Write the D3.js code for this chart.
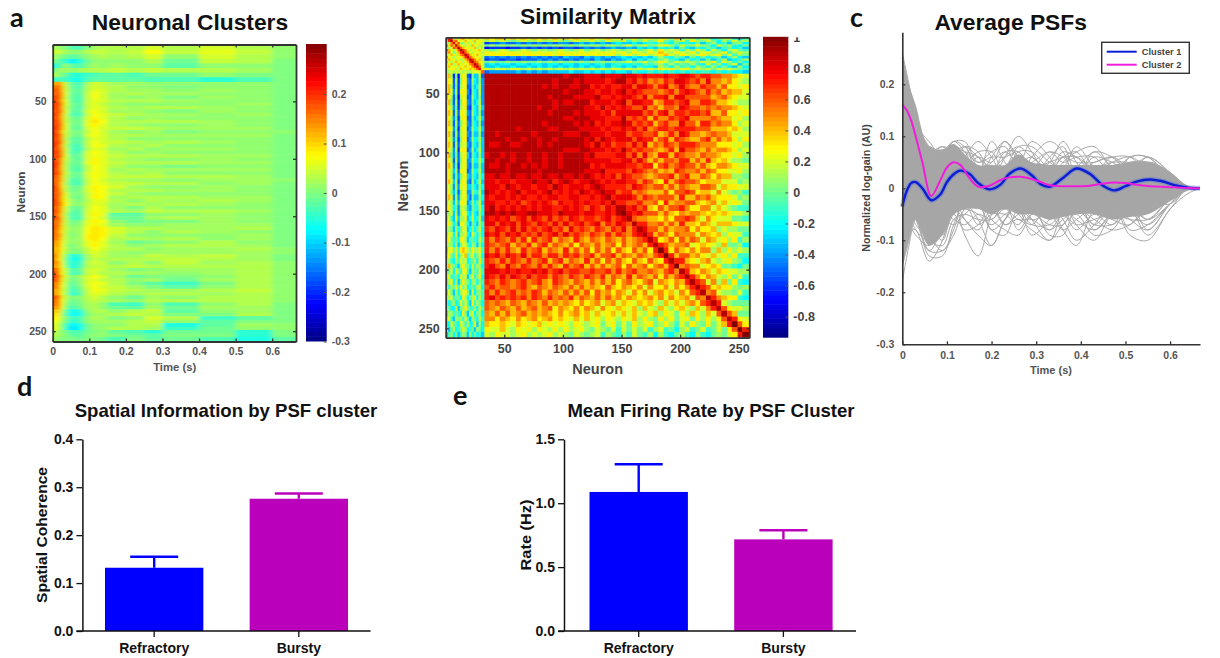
<!DOCTYPE html>
<html>
<head>
<meta charset="utf-8">
<script src="https://cdn.jsdelivr.net/npm/d3@7"></script>
<style>
  body { margin: 0; background: #fff; }
  svg { display: block; }
  text { font-family: "Liberation Sans", Arial, sans-serif; font-weight: bold; }
  .letter { font-family: Lato, sans-serif; font-size: 27px; fill: #111; }
  .small .tick text { font-size: 10.5px; fill: #555; font-family: "Liberation Sans", sans-serif; font-weight: bold; }
  .mid .tick text { font-size: 12.5px; fill: #444; font-family: "Liberation Sans", sans-serif; font-weight: bold; }
  .big .tick text { font-size: 14px; fill: #111; font-family: "Liberation Sans", sans-serif; font-weight: bold; }
</style>
</head>
<body>
<svg id="fig" width="1220" height="658"></svg>
<script>
// panel a: gain x100, one row per neuron band, one column per time bin
var clusterTimeEdges = [0, .01, .02, .03, .045, .065, .085, .105, .125, .15, .2, .25, .3, .4, .5, .6, .665];
var clusterRowStarts = [1, 5, 9, 13, 17, 21, 25, 29].concat(d3.range(33, 259, 3));
var clusterGain = [
  [2,2,1,0,-3,-3,0,2,3,3,3,5,3,5,3,1],
  [4,5,3,2,1,1,3,4,4,3,4,7,4,6,4,1],
  [2,1,0,-1,-2,-1,1,2,3,2,3,5,1,5,3,1],
  [0,-2,-3,-5,-8,-5,-1,1,1,1,1,3,-1,4,3,0],
  [-6,-4,-1,1,-2,-3,0,2,1,2,1,1,-2,1,1,0],
  [-1,1,2,2,1,2,3,3,3,4,3,4,3,3,2,0],
  [3,1,0,-2,-5,-5,-4,-3,-2,-2,-3,-1,-1,1,0,0],
  [-4,-4,-3,-4,-6,-6,-3,-2,-2,-2,-2,-3,-3,-5,-3,0],
  [12,14,11,3,-2,-3,2,5,4,2,2,1,1,1,1,0],
  [15,17,12,4,-2,-3,3,5,4,3,1,1,0,1,1,0],
  [17,18,12,4,-1,-2,3,6,5,3,2,2,1,2,1,0],
  [16,19,13,5,-2,-2,4,7,5,2,3,2,2,1,1,0],
  [18,19,13,4,-2,-3,4,7,5,2,1,2,0,2,1,0],
  [19,18,12,5,-2,-3,4,6,5,3,3,3,2,1,1,0],
  [18,20,14,5,-1,-2,4,6,4,2,1,1,1,1,2,0],
  [19,19,13,4,-1,-3,4,6,5,3,2,3,3,2,1,0],
  [17,20,14,5,-2,-2,5,7,5,2,2,1,0,2,1,0],
  [19,19,12,4,-3,-3,4,7,6,4,3,2,2,1,2,0],
  [18,18,12,4,-1,-1,5,8,6,3,1,2,1,1,1,0],
  [19,19,13,4,0,-1,6,9,7,3,3,3,3,2,1,0],
  [18,20,14,5,-1,-1,6,8,6,3,2,1,1,2,1,0],
  [20,19,13,5,-1,-2,5,7,5,4,4,3,2,2,2,0],
  [19,18,11,4,0,0,4,7,5,2,1,2,0,1,1,1],
  [19,20,13,4,0,-1,5,7,5,3,3,2,2,2,2,0],
  [18,19,13,3,-2,-2,3,6,5,3,1,1,1,1,1,0],
  [19,20,14,4,-2,-2,4,7,5,4,3,2,3,2,1,0],
  [20,19,12,3,-3,-3,4,7,6,3,2,3,1,1,1,0],
  [18,19,13,4,-3,-4,3,6,5,2,3,1,2,2,1,0],
  [19,20,14,4,-3,-2,5,7,6,3,1,2,1,1,1,0],
  [18,21,14,5,-2,-1,5,7,6,4,3,3,3,2,2,0],
  [18,19,12,4,-1,-2,5,8,6,3,2,1,1,2,1,0],
  [19,20,12,3,-1,-1,6,8,6,4,3,3,3,2,2,0],
  [20,19,11,3,-2,-2,4,7,6,3,1,1,0,1,1,0],
  [18,19,11,3,-2,-3,4,7,6,2,3,2,2,2,2,0],
  [19,20,12,4,-1,-1,5,7,6,3,2,3,1,1,1,0],
  [17,18,11,3,-1,-2,5,7,6,4,4,4,3,3,2,0],
  [16,18,11,3,-3,-2,4,7,5,3,2,2,1,2,2,1],
  [17,17,10,2,-3,-3,4,7,6,4,4,3,3,1,2,0],
  [19,17,10,3,-1,-1,5,8,7,5,2,1,1,2,1,0],
  [18,18,11,3,-1,0,5,8,7,3,3,3,2,2,1,0],
  [17,19,12,5,0,0,4,8,7,4,2,1,1,1,1,0],
  [18,18,11,5,0,-1,4,8,7,2,3,3,3,2,2,0],
  [20,17,12,6,1,0,3,6,6,3,1,3,2,3,2,0],
  [18,18,13,7,1,1,4,6,5,2,3,2,3,2,1,0],
  [16,19,11,4,-1,-1,4,7,6,2,0,3,1,1,1,0],
  [18,18,11,4,-2,-2,5,7,6,3,2,4,3,3,2,0],
  [17,17,10,2,-3,-2,5,8,6,-2,-2,1,1,2,1,0],
  [19,18,11,3,-3,-3,5,7,5,-1,-1,2,3,2,1,0],
  [16,17,11,3,-1,0,6,8,7,1,-1,0,0,2,1,0],
  [16,18,10,3,0,1,6,8,6,2,1,1,2,2,2,0],
  [17,15,10,4,1,2,7,9,8,5,3,3,2,2,3,0],
  [16,15,9,3,1,2,7,9,8,5,3,1,3,2,1,0],
  [15,17,10,3,0,2,8,9,8,4,1,1,1,1,2,0],
  [15,16,9,3,1,2,8,9,7,3,3,2,3,1,2,0],
  [13,14,8,3,1,2,6,8,6,2,-1,0,1,3,1,0],
  [12,14,8,2,0,2,6,8,6,3,1,2,3,3,2,0],
  [11,13,7,3,0,1,4,7,5,3,3,1,2,2,3,1],
  [12,13,7,2,0,0,4,6,4,2,1,2,2,2,2,1],
  [15,12,6,0,-6,-4,2,5,4,2,2,4,3,4,2,0],
  [14,11,6,-1,-7,-5,2,4,3,3,3,3,4,3,2,0],
  [14,15,7,-1,-5,-4,3,5,4,1,3,1,4,2,3,1],
  [12,14,7,0,-6,-3,3,4,4,3,4,3,3,3,3,1],
  [17,16,8,3,-3,-1,4,5,4,2,0,1,2,2,3,1],
  [19,16,8,3,-4,-2,4,5,3,3,2,2,1,2,3,1],
  [19,18,10,4,0,2,5,7,5,2,-1,0,0,1,3,1],
  [18,17,9,3,-1,1,5,6,4,3,1,2,-1,2,3,1],
  [14,17,8,2,-2,1,5,7,6,3,0,-2,-4,0,3,1],
  [15,15,7,2,-3,0,5,7,5,4,2,0,-2,1,3,1],
  [12,14,6,2,-4,-1,4,7,6,4,3,2,2,3,4,1],
  [13,13,6,2,-5,-2,4,6,5,3,2,3,3,2,3,1],
  [17,18,9,3,0,1,3,5,3,1,-1,2,1,3,3,1],
  [16,16,8,2,-1,0,3,4,3,2,1,3,3,3,3,1],
  [15,16,8,1,-2,0,2,3,1,-3,-4,1,-3,1,3,0],
  [13,15,7,0,-3,-1,2,3,1,-1,-2,2,-1,2,2,0],
  [10,11,4,-2,-7,-5,1,3,3,1,3,4,-2,1,2,0],
  [9,9,3,-3,-7,-6,0,2,2,3,4,3,0,0,3,0],
  [8,8,3,0,-4,-3,1,3,2,0,1,5,3,-4,-2,0],
  [7,6,2,-1,-5,-3,1,2,2,2,3,4,1,-2,0,0],
  [6,4,1,-4,-8,-6,-1,1,1,1,3,3,-6,-2,2,1],
  [6,5,1,-5,-9,-7,-1,1,1,3,3,2,-4,-1,1,1],
  [4,2,1,-1,-3,-3,-1,0,1,-2,-3,-5,-1,-1,-5,0],
  [3,3,1,0,-2,-2,0,1,1,0,-1,-2,0,0,-5,0],
  [2,1,0,0,0,-1,0,0,-1,-3,0,-2,-1,-3,-6,-2]
];

// panel b: similarity x10, lower triangle only, the matrix is symmetric
var simEdges = [0,2,4,6,8,10,12,14,16,18,20,22,24,26,28,30,33,37,42,46,51,55,60,64,69,73,78,82,87,91,96,100,105,109,114,118,
  123,127,132,136,141,145,150,154,159,163,168,172,177,181,186,190,195,199,204,208,213,217,222,226,231,235,240,244,249,253,259];
var simLower = [
  [8],
  [6,9],
  [4,7,9],
  [2,1,5,8],
  [5,3,6,4,9],
  [3,1,2,6,5,9],
  [6,4,3,1,3,6,9],
  [4,5,2,0,2,4,7,9],
  [3,2,4,3,1,3,5,6,9],
  [5,3,2,1,3,2,3,4,7,9],
  [2,4,3,2,1,3,1,2,4,6,9],
  [4,2,1,3,4,2,3,1,3,4,7,9],
  [3,3,4,1,2,4,2,3,2,3,5,6,9],
  [2,4,2,2,3,1,3,2,4,2,3,5,7,9],
  [3,2,3,3,1,2,4,3,2,3,4,3,4,6,8],
  [2,1,2,1,2,1,2,1,2,1,1,2,2,2,3,6],
  [3,4,1,-6,0,-7,1,3,2,-5,-6,0,-3,-3,2,-5, 9],
  [3,3,2,-5,1,-6,0,3,3,-4,-5,1,-2,-3,1,-4, 9,9],
  [2,4,1,-5,0,-6,1,2,3,-5,-5,0,-3,-2,2,-4, 9,9,9],
  [3,4,2,-4,1,-6,2,3,3,-4,-6,0,-2,-3,2,-4, 9,9,9,9],
  [4,3,1,-5,0,-7,1,3,2,-5,-5,1,-2,-3,1,-4, 9,9,9,9,9],
  [3,4,0,-5,1,-6,0,3,3,-4,-5,0,-3,-2,2,-4, 9,9,9,9,9,9],
  [2,3,1,-4,0,-6,1,2,3,-5,-6,0,-2,-3,2,-3, 9,9,9,9,9,9,9],
  [3,4,2,-5,1,-5,2,3,2,-4,-5,1,-2,-3,1,-4, 9,9,9,9,9,9,9,9],
  [3,3,1,-4,0,-6,1,3,3,-5,-5,0,-3,-2,2,-3, 9,9,9,9,9,9,9,9,9],
  [2,4,1,-5,1,-5,0,2,3,-4,-5,0,-2,-3,1,-4, 9,9,9,9,9,9,9,9,9,9],
  [3,3,2,-4,0,-6,1,3,2,-5,-4,1,-2,-2,2,-3, 9,9,9,9,9,9,8,9,9,9, 9],
  [2,4,1,-5,1,-5,1,2,3,-4,-5,0,-3,-3,1,-4, 9,9,8,9,9,9,9,9,9,8, 9,9],
  [3,3,1,-4,0,-6,0,3,3,-5,-4,1,-2,-2,2,-3, 9,9,9,9,8,9,9,8,9,9, 8,9,9],
  [2,4,2,-5,1,-5,1,2,2,-4,-5,0,-2,-3,1,-3, 9,8,8,9,9,8,8,9,9,9, 8,9,8,9],
  [3,3,1,-4,1,-6,2,3,3,-5,-4,1,-3,-2,2,-3, 9,9,9,9,9,9,9,9,9,9, 9,9,9,9,9],
  [3,4,0,-4,0,-5,1,2,3,-3,-5,0,-2,-3,1,-3, 8,9,9,8,9,8,9,9,8,9, 9,8,9,9,8,9],
  [2,3,1,-5,1,-5,0,3,2,-4,-4,1,-2,-2,2,-2, 9,9,8,9,9,8,9,9,8,9, 9,8,9,9,8,9,9],
  [3,4,2,-4,0,-6,1,2,3,-4,-5,0,-3,-3,1,-3, 9,8,8,9,8,9,9,8,9,8, 9,8,9,9,8,9,9,9],
  [2,3,1,-3,1,-5,2,3,2,-5,-4,1,-2,-2,2,-3, 9,9,9,9,8,9,9,9,9,9, 8,9,9,9,9,9,9,9,9],
  [3,3,1,-4,0,-4,0,2,3,-3,-4,0,-2,-3,1,-2, 8,8,9,8,8,9,8,8,9,8, 8,9,8,8,9,8,8,9,8,9],
  [2,4,2,-3,1,-5,1,3,2,-4,-5,1,-3,-2,2,-3, 8,8,7,8,8,7,8,8,8,9, 8,8,9,7,8,9,8,7,8,8, 9],
  [3,2,1,-4,1,-4,2,2,3,-3,-3,0,-2,-3,1,-2, 8,8,8,7,9,8,7,8,8,7, 8,8,7,9,8,7,8,8,8,7, 8,9],
  [2,3,0,-3,0,-5,0,3,2,-4,-4,1,-1,-2,2,-3, 9,8,7,8,7,8,9,7,8,8, 7,8,9,7,8,7,8,7,9,8, 7,8,9],
  [3,4,2,-4,1,-4,1,2,3,-3,-5,0,-3,-3,1,-2, 8,7,8,8,7,8,7,8,7,7, 8,7,8,8,7,7,8,8,7,7, 8,7,8,9],
  [1,2,1,-3,1,-3,2,3,2,-4,-3,1,-2,-1,2,-3, 8,8,7,7,8,7,8,6,7,8, 7,8,7,6,8,7,7,8,7,8, 7,7,8,7,9],
  [2,3,1,-2,0,-4,1,2,1,-3,-4,0,-1,-2,2,-2, 8,9,7,8,7,8,7,8,7,8, 7,8,8,7,7,8,7,8,7,6, 8,7,6,8,7,9],
  [3,1,2,-3,1,-4,0,3,2,-2,-3,1,-2,-3,1,-2, 9,9,8,9,8,9,8,8,9,9, 8,8,8,7,9,8,8,8,7,8, 8,7,7,8,7,9,10],
  [1,2,-1,-3,2,-3,1,1,3,-3,-2,2,-2,-2,2,-3, 8,7,8,7,8,6,7,8,6,8, 7,6,8,6,7,6,8,7,6,7, 7,6,7,8,6,7,8,9],
  [2,3,1,-2,0,-4,2,3,1,-2,-4,0,-1,-3,1,-1, 8,8,6,8,7,8,6,8,7,6, 8,7,6,8,6,8,6,7,8,6, 7,8,5,7,6,8,7,6,9],
  [3,1,0,-3,1,-2,0,2,2,-3,-2,1,-2,-1,2,-2, 7,6,8,7,6,8,6,8,6,7, 6,7,8,6,7,5,8,6,7,6, 5,7,6,5,7,6,8,5,7,9],
  [1,2,2,-2,2,-3,1,1,3,-2,-3,2,0,-2,1,-2, 8,7,8,6,8,7,8,6,7,6, 8,6,7,8,6,8,6,7,6,5, 7,6,5,7,5,7,6,5,7,8, 9],
  [2,3,0,-1,0,-2,2,3,1,-3,-1,0,-1,-2,2,-1, 7,5,7,6,5,7,5,7,4,7, 5,6,7,4,6,5,4,7,5,4, 6,5,4,6,5,4,6,4,5,6, 7,9],
  [3,1,1,-2,1,-3,0,2,2,-1,-2,1,0,-3,1,-2, 7,6,5,6,7,4,6,5,7,4, 6,7,4,6,5,4,6,3,6,5, 4,6,4,5,6,3,6,4,5,6, 4,7,9],
  [4,2,3,0,2,-1,3,4,3,1,0,3,1,1,3,-1, 7,5,7,5,7,5,4,7,5,6, 7,4,6,5,4,7,4,6,4,6, 3,6,4,6,3,6,4,3,6,4, 6,3,7,10],
  [1,3,0,-1,3,-2,1,2,4,-1,1,2,-1,0,2,-2, 8,7,8,6,8,7,6,8,5,7, 7,5,7,7,5,7,6,7,5,6, 7,4,6,6,7,4,6,5,4,6, 5,4,6,7,10],
  [3,1,-1,-2,1,-1,2,1,2,-2,-1,0,1,-2,3,-1, 7,6,5,7,5,7,6,5,7,5, 6,7,4,6,7,4,6,5,4,7, 4,6,3,6,4,6,4,3,6,4, 3,6,4,3,7,9],
  [2,4,1,0,-1,-3,1,3,1,0,-2,2,-1,1,1,-2, 7,8,6,5,8,6,5,7,6,5, 7,5,7,5,4,7,5,6,7,4, 6,4,6,4,5,6,3,6,4,5, 6,3,5,6,4,7,10],
  [1,0,2,-2,2,0,-1,2,3,-1,-3,1,0,-1,2,-1, 8,8,8,7,8,7,8,7,7,8, 7,8,6,7,8,6,7,7,6,6, 7,6,6,7,5,7,5,6,7,5, 5,6,5,4,6,7,5,9],
  [3,2,-1,-1,0,-2,2,1,2,-3,0,2,-1,0,3,-2, 8,7,6,8,6,8,7,6,8,6, 7,7,5,7,6,5,7,6,5,7, 6,5,7,4,6,5,4,7,4,6, 5,4,6,3,6,4,6,7,9],
  [0,1,3,-2,1,-3,0,3,1,0,-2,1,1,-2,1,-1, 7,6,5,7,6,5,6,7,5,6, 7,5,4,7,6,5,4,6,5,4, 6,4,6,4,6,3,5,6,4,3, 5,6,2,5,4,3,5,4,7,9],
  [2,-1,1,0,2,-1,3,0,2,-2,-1,0,-1,1,2,-2, 6,7,5,6,6,5,6,7,5,4, 6,5,4,6,5,4,6,4,6,4, 5,4,3,6,4,3,5,4,3,5, 2,5,3,3,5,2,5,3,5,7, 9],
  [-1,2,0,-3,1,-2,1,2,3,0,-3,2,-2,0,1,-1, 7,5,7,5,6,7,5,6,5,7, 6,4,6,5,4,6,4,6,4,6, 3,6,4,5,3,5,4,2,5,3, 5,2,4,5,3,4,2,5,3,6, 7,9],
  [3,1,2,-1,0,0,-2,3,1,-2,0,1,2,-2,2,-1, 7,8,6,7,6,7,6,7,5,7, 6,5,7,5,6,5,7,4,6,5, 4,6,4,6,4,5,3,5,4,3, 4,5,3,5,2,5,3,4,5,2, 6,5,9],
  [1,-2,0,1,-2,-1,2,0,2,-1,-3,3,-1,1,0,-2, 6,5,6,5,4,6,5,4,6,5, 4,6,4,5,4,5,4,3,5,3, 4,5,2,4,5,2,4,3,2,4, 3,4,2,1,4,2,4,2,4,5, 3,6,7,9],
  [2,0,-2,-2,2,-3,0,1,3,0,-1,-1,1,-2,2,-1, 6,5,4,6,5,4,6,4,5,6, 4,5,6,3,5,4,3,5,3,5, 4,2,5,3,2,4,3,2,4,1, 4,2,1,4,2,1,3,4,2,1, 4,2,5,7,9],
  [-2,1,1,-1,0,-1,-2,3,0,-3,1,2,-2,0,1,-2, 5,4,6,4,6,4,5,6,4,5, 4,5,4,3,5,3,4,5,3,4, 2,4,2,3,4,2,4,2,4,2, 1,3,4,1,3,2,0,3,1,4, 3,1,4,2,6,9],
  [1,2,-1,-3,1,0,1,-1,2,-1,-3,1,0,-2,2,-1, 5,5,3,5,4,3,5,3,4,5, 3,4,5,3,4,3,2,4,2,4, 2,3,1,3,2,1,3,2,4,1, 3,1,0,3,1,3,0,2,3,0, 3,1,3,1,3,6,9],
  [-1,-2,2,0,-1,-2,2,1,-1,1,-2,-1,2,-3,1,-2, 4,3,3,4,3,2,4,3,2,3, 4,2,3,2,3,2,1,3,2,1, 2,3,0,2,3,0,2,0,3,1, 2,3,0,1,3,1,-1,2,0,3, 1,0,3,0,2,4,7,10],
  [2,-3,0,1,-2,-1,0,2,1,-2,-1,0,-3,1,0,-2, 3,2,2,4,2,1,3,2,3,1, 3,2,1,3,1,3,1,2,3,1, 0,2,1,0,2,-1,2,0,2,0, 2,-1,1,2,-1,0,-2,1,2,-1, 0,2,-1,0,2,0,3,6,10],
  [-3,-1,1,-2,0,-3,-1,1,0,-3,1,-2,0,-2,-1,-3, 2,1,3,2,2,1,2,3,1,2, 1,2,3,1,2,1,0,2,1,0, 1,2,-1,1,0,-1,1,-1,2,0, -1,1,-2,1,-1,-2,0,1,-1,-2, 1,-1,-2,0,1,0,2,3,7,10]
];

// panel c: log-gain x100 at the knot times
var psfKnots = [0, .015, .03, .06, .09, .115, .14, .17, .2, .23, .26, .29, .33, .36, .39, .43, .47, .51, .55, .6, .64, .667];
var psfCoreUpper = [26, 20, 16, 8, 7.5, 8.5, 6.5, 4.5, 4.5, 4.5, 6.5, 5, 4.5, 4.5, 4.5, 4.5, 4.5, 5, 5, 3, .5, 0];
var psfCoreLower = [-15, -10, -6, -11, -9, -5, -4, -4, -5, -4, -5, -5, -6, -5.5, -5, -5, -6, -5.5, -5, -2.5, -.4, 0];
var psfTraces = [
  [18,14,9,5,6,9,7,3,9,5,2,6,9,7,2,7,4,2,5,3,0,0],
  [22,16,10,7,8,6,4,6,5,9,6,3,5,9,5,1,3,5,5,2,0,0],
  [12,10,8,8,7,9,8,4,2,6,10,7,2,5,7,8,4,3,6,3,0,0],
  [25,18,11,2,-2,4,8,7,3,4,8,8,5,4,8,4,1,6,6,2,0,0],
  [16,15,12,8,3,3,6,9,6,2,4,9,6,2,4,7,6,3,4,3,0,0],
  [26,20,13,6,7,9,9,5,7,8,4,5,7,6,3,5,6,6,3,2,0,0],
  [-15,-10,-5,-13,-13,-7,-3,-6,-11,-6,-2,-6,-10,-4,-1,-8,-5,-3,-8,-3,0,0],
  [-10,-8,-8,-14,-10,-3,-9,-13,-5,-1,-5,-7,-3,-8,-11,-4,-2,-8,-7,-3,0,0],
  [-18,-11,-6,-12,-12,-9,-4,-3,-8,-9,-4,-9,-6,-3,-7,-10,-5,-4,-9,-4,0,0],
  [-6,-7,-9,-11,-7,-2,-6,-9,-11,-6,-3,-3,-9,-9,-4,-6,-8,-7,-4,-2,0,0],
  [-13,-9,-4,-9,-12,-8,-2,-2,-6,-8,-9,-5,-3,-6,-10,-7,-3,-9,-10,-4,-1,0],
  [-2,-4,-6,-12,-8,-5,-8,-7,-3,-7,-6,-8,-10,-7,-5,-9,-8,-4,-6,-3,0,0],
  [8,9,8,8,5,8,7,5,6,6,7,4,5,6,6,4,5,5,5,3,0,0],
  [-5,-4,-5,-8,-9,-5,-4,-5,-7,-5,-4,-7,-7,-5,-7,-6,-5,-6,-6,-2,0,0],
  [14,12,9,7,2,6,7,6,4,6,8,6,4,7,6,3,5,6,4,2,0,0],
  [-8,-7,-6,-10,-11,-6,-5,-6,-6,-4,-6,-6,-8,-6,-4,-7,-7,-5,-7,-3,0,0],
  [10,9,9,7,4,8,6,2,6,9,5,2,6,8,3,6,5,3,5,3,0,0],
  [20,16,12,9,6,7,8,6,3,7,7,4,7,5,6,6,3,6,6,2,0,0],
  [6,5,4,6,8,7,5,7,7,3,7,7,4,6,7,3,6,4,6,3,0,0],
  [-4,-3,-7,-9,-6,-7,-5,-3,-8,-6,-3,-6,-5,-8,-6,-4,-6,-7,-3,-3,0,0],
  [-12,-6,-3,-7,-10,-4,-6,-8,-4,-7,-5,-4,-8,-5,-8,-5,-7,-3,-6,-2,0,0],
  [-9,-5,-8,-10,-5,-6,-7,-5,-6,-3,-8,-5,-7,-7,-3,-7,-4,-6,-8,-3,0,0],
  [4,6,7,8,6,5,8,3,5,7,5,6,3,6,5,5,6,3,5,2,0,0],
  [-3,-5,-4,-6,-8,-4,-3,-7,-5,-5,-7,-3,-6,-4,-6,-8,-5,-5,-4,-2,0,0]
];
var meanTimes = [0, .01, .02, .03, .045, .065, .085, .1, .115, .13, .15, .17, .195, .22, .24, .265, .29, .31, .33, .36, .39, .42, .45, .475, .5, .525, .555, .58, .61, .64, .667];
var cluster1 = [-3.5, -.5, 1, 1.2, 0, -2.3, -1.2, 1.2, 2.7, 3.4, 2.8, 1, -.2, .7, 2.8, 3.8, 2.5, .8, .3, 2, 3.8, 2.8, .5, -.4, .4, 1.3, 1.7, 1.4, .6, .1, 0];
var cluster2 = [16.1, 15, 13, 10, 5, -1.5, 1.5, 4, 5, 4.5, 2, .3, .5, 1.6, 2.1, 2.2, 1.8, 1.2, .6, .4, .4, .5, .9, 1.1, 1, .7, .4, .3, .2, .05, 0];

// panels d and e
var barGroups = ["Refractory", "Bursty"];
var coherence = [.132, .276];
var coherenceErr = [.155, .287];
var firingRate = [1.088, .717];
var firingRateErr = [1.305, .788];
var barColors = ["#0000ff", "#bb00bb"];

var svg = d3.select("#fig");
var defs = svg.append("defs");
function softFilter(id, dev) {
  defs.append("filter").attr("id", id).attr("x", "-5%").attr("y", "-5%").attr("width", "110%").attr("height", "110%")
    .append("feGaussianBlur").attr("stdDeviation", dev);
}
softFilter("softA", "2.5 0.7");
softFilter("softB", "0.6");

var jet = d3.scaleLinear()
  .domain([0, .125, .375, .625, .875, 1])
  .range(["#000080", "#0000ff", "#00ffff", "#ffff00", "#ff0000", "#800000"])
  .clamp(true);

function label(x, y, txt, size, fill, rotate, len) {
  var t = svg.append("text").attr("font-size", size).attr("fill", fill).attr("text-anchor", "middle").text(txt);
  if (rotate) t.attr("transform", "translate(" + x + "," + y + ") rotate(-90)");
  else t.attr("x", x).attr("y", y);
  if (len) t.attr("textLength", len).attr("lengthAdjust", "spacingAndGlyphs");
  return t;
}

function clipBox(id, x, y, w, h) {
  defs.append("clipPath").attr("id", id).append("rect").attr("x", x).attr("y", y).attr("width", w).attr("height", h);
}

function styleAxis(g, color, width) {
  g.selectAll(".domain").attr("stroke", color).attr("stroke-width", width);
  g.selectAll(".tick line").attr("stroke", color).attr("stroke-width", 1.3);
}

function colorbar(x0, x1, y0, y1, domain, ticks, cls) {
  var y = d3.scaleLinear().domain(domain).range([y1, y0]);
  var steps = d3.range(64);
  var band = d3.scaleBand().domain(steps).range([y1, y0]);
  svg.append("g").selectAll("rect").data(steps).enter().append("rect")
    .attr("x", x0).attr("width", x1 - x0)
    .attr("y", function(d) { return band(d) - 0.5; })
    .attr("height", band.bandwidth() + 0.5)
    .attr("fill", function(d) { return jet((d + .5) / 64); });
  var g = svg.append("g").attr("class", cls).attr("transform", "translate(" + x1 + ",0)")
    .call(d3.axisRight(y).tickValues(ticks).tickSizeInner(-3).tickSizeOuter(0).tickPadding(5).tickFormat(String));
  g.select(".domain").remove();
  g.selectAll(".tick line").attr("stroke", "#555");
  return g;
}

function boxAxes(x, y, xTicks, yTicks, l, r, t, b, cls) {
  var common = function(a) { return a.tickSizeInner(-3).tickSizeOuter(0); };
  var bottom = svg.append("g").attr("class", cls).attr("transform", "translate(0," + b + ")")
    .call(common(d3.axisBottom(x)).tickValues(xTicks).tickPadding(6).tickFormat(String));
  var left = svg.append("g").attr("class", cls).attr("transform", "translate(" + l + ",0)")
    .call(common(d3.axisLeft(y)).tickValues(yTicks).tickPadding(6).tickFormat(String));
  var top = svg.append("g").attr("transform", "translate(0," + t + ")")
    .call(common(d3.axisTop(x)).tickValues(xTicks).tickFormat(""));
  var right = svg.append("g").attr("transform", "translate(" + r + ",0)")
    .call(common(d3.axisRight(y)).tickValues(yTicks).tickFormat(""));
  [bottom, left, top, right].forEach(function(g) { styleAxis(g, "#333", 1.8); });
}

// ---- panel a
var ax = { l: 52.7, r: 296, t: 44.5, b: 341.5 };
var xA = d3.scaleLinear().domain([0, .665]).range([ax.l, ax.r]);
var yA = d3.scaleLinear().domain([.5, 259]).range([ax.t, ax.b]);
clipBox("clipA", ax.l, ax.t, ax.r - ax.l, ax.b - ax.t);
var gainColor = function(v) { return jet((v / 100 + .3) / .6); };
var layerA = svg.append("g").attr("clip-path", "url(#clipA)").append("g").attr("filter", "url(#softA)");
clusterGain.forEach(function(row, i) {
  var last = clusterGain.length - 1;
  var top = i === 0 ? ax.t - 6 : yA(clusterRowStarts[i]);
  var bot = i === last ? ax.b + 6 : yA(clusterRowStarts[i + 1]);
  layerA.selectAll(null).data(row).enter().append("rect")
    // first and last bins run past the frame so the blur keeps the edge colour
    .attr("x", function(d, j) { return j === 0 ? ax.l - 12 : xA(clusterTimeEdges[j]); })
    .attr("width", function(d, j) {
      var x0 = j === 0 ? ax.l - 12 : xA(clusterTimeEdges[j]);
      var x1 = j === row.length - 1 ? ax.r + 12 : xA(clusterTimeEdges[j + 1]);
      return x1 - x0 + .5;
    })
    .attr("y", top)
    .attr("height", bot - top + .5)
    .attr("fill", gainColor);
});
boxAxes(xA, yA, [0, .1, .2, .3, .4, .5, .6], [50, 100, 150, 200, 250], ax.l, ax.r, ax.t, ax.b, "small");
colorbar(306, 326.7, 44.5, 341.5, [-.3, .3], [-.3, -.2, -.1, 0, .1, .2], "small");
label(174.7, 370.5, "Time (s)", 11.3, "#555");
label(25, 192, "Neuron", 11.7, "#444", true);
label(190, 30, "Neuronal Clusters", 22.8, "#111");

// ---- panel b
var bx = { l: 445.7, r: 749.3, t: 37.3, b: 337.7 };
var xB = d3.scaleLinear().domain([0, 259]).range([bx.l, bx.r]);
var yB = d3.scaleLinear().domain([2, 258]).range([bx.t, bx.b]);
clipBox("clipB", bx.l, bx.t, bx.r - bx.l, bx.b - bx.t);
var simColor = function(v) { return jet((v / 10 + .936) / 1.936); };
var simCells = [];
simLower.forEach(function(row, r) {
  row.forEach(function(v, c) {
    simCells.push({ r: r, c: c, v: v });
    if (r !== c) simCells.push({ r: c, c: r, v: v });
  });
});
var simLast = simEdges.length - 2;
var cellStart = function(scale, i) { return i === 0 ? scale(simEdges[0]) - 6 : scale(simEdges[i]); };
var cellEnd = function(scale, i) { return i === simLast ? scale(simEdges[i + 1]) + 6 : scale(simEdges[i + 1]); };
svg.append("g").attr("clip-path", "url(#clipB)").append("g").attr("filter", "url(#softB)")
  .selectAll("rect").data(simCells).enter().append("rect")
  .attr("x", function(d) { return cellStart(xB, d.c); })
  .attr("width", function(d) { return cellEnd(xB, d.c) - cellStart(xB, d.c) + .5; })
  .attr("y", function(d) { return cellStart(yB, d.r); })
  .attr("height", function(d) { return cellEnd(yB, d.r) - cellStart(yB, d.r) + .5; })
  .attr("fill", function(d) { return simColor(d.v); });
boxAxes(xB, yB, [50, 100, 150, 200, 250], [50, 100, 150, 200, 250], bx.l, bx.r, bx.t, bx.b, "mid");
// the top label of this colorbar is cut by the figure crop
clipBox("clipBar", -30, 37.3, 70, 305);
colorbar(763, 788.3, 37.3, 337.7, [-.936, 1], [-.8, -.6, -.4, -.2, 0, .2, .4, .6, .8, 1], "mid")
  .attr("clip-path", "url(#clipBar)");
label(597.7, 374, "Neuron", 14.5, "#444");
label(408, 186, "Neuron", 14.5, "#444", true);
label(608, 24, "Similarity Matrix", 22.8, "#111");

// ---- panel c
var xC = d3.scaleLinear().domain([0, .667]).range([902.3, 1200]);
var yC = d3.scaleLinear().domain([-30, 30]).range([344.3, 32.3]);
var coreArea = d3.area().curve(d3.curveCatmullRom)
  .x(function(d, i) { return xC(psfKnots[i]); })
  .y0(function(d, i) { return yC(psfCoreLower[i]); })
  .y1(function(d) { return yC(d); });
svg.append("path").datum(psfCoreUpper).attr("d", coreArea).attr("fill", "#a6a6a6");
var traceLine = d3.line().curve(d3.curveCatmullRom)
  .x(function(d, i) { return xC(psfKnots[i]); })
  .y(function(d) { return yC(d); });
svg.append("g").selectAll("path").data(psfTraces).enter().append("path")
  .attr("d", traceLine).attr("fill", "none").attr("stroke", "#a8a8a8").attr("stroke-width", 1);
var meanLine = d3.line().curve(d3.curveCatmullRom)
  .x(function(d, i) { return xC(meanTimes[i]); })
  .y(function(d) { return yC(d); });
svg.append("path").datum(cluster1).attr("d", meanLine).attr("fill", "none").attr("stroke", "#5d6fd0").attr("stroke-width", 5).attr("opacity", .45);
svg.append("path").datum(cluster1).attr("d", meanLine).attr("fill", "none").attr("stroke", "#0a1ed6").attr("stroke-width", 2.4);
svg.append("path").datum(cluster2).attr("d", meanLine).attr("fill", "none").attr("stroke", "#f01cdc").attr("stroke-width", 2);
var axisCx = svg.append("g").attr("class", "small").attr("transform", "translate(0,344.3)")
  .call(d3.axisBottom(xC).tickValues([0, .1, .2, .3, .4, .5, .6]).tickSizeInner(-3).tickSizeOuter(0).tickPadding(7).tickFormat(String));
var axisCy = svg.append("g").attr("class", "small").attr("transform", "translate(902.3,0)")
  .call(d3.axisLeft(yC).tickValues([-30, -20, -10, 0, 10, 20]).tickSizeInner(-3).tickSizeOuter(0).tickPadding(8)
    .tickFormat(function(d) { return String(d / 100); }));
styleAxis(axisCx, "#333", 1.6);
styleAxis(axisCy, "#333", 1.6);
label(1051, 374, "Time (s)", 11, "#555");
label(870, 188, "Normalized log-gain (AU)", 10.7, "#444", true);
label(1010.7, 30, "Average PSFs", 22.8, "#111");
var legend = svg.append("g");
legend.append("rect").attr("x", 1101.7).attr("y", 42.3).attr("width", 87.6).attr("height", 31)
  .attr("fill", "#fff").attr("stroke", "#333").attr("stroke-width", 1.4);
[["Cluster 1", "#0a1ed6"], ["Cluster 2", "#f01cdc"]].forEach(function(d, i) {
  legend.append("line").attr("x1", 1106.7).attr("x2", 1136.7).attr("y1", 51.7 + i * 13).attr("y2", 51.7 + i * 13)
    .attr("stroke", d[1]).attr("stroke-width", 2);
  legend.append("text").attr("x", 1141.7).attr("y", 55 + i * 13).attr("font-size", 9.3).attr("fill", "#444").text(d[0]);
});

// ---- panels d and e
function barPanel(axisX, axisEnd, band0, band1, top, values, errs, ticks, title, titleX, yLabel, yLabelX, yLabelY, yLabelLen) {
  var y = d3.scaleLinear().domain([0, top]).range([631, 439.3]);
  var x = d3.scaleBand().domain(barGroups).range([band0, band1]).paddingInner(.32).paddingOuter(0);
  var g = svg.append("g");
  barGroups.forEach(function(name, i) {
    var cx = x(name) + x.bandwidth() / 2;
    g.append("line").attr("x1", cx).attr("x2", cx).attr("y1", y(values[i])).attr("y2", y(errs[i]))
      .attr("stroke", barColors[i]).attr("stroke-width", 2.4);
    g.append("line").attr("x1", cx - 24).attr("x2", cx + 24).attr("y1", y(errs[i])).attr("y2", y(errs[i]))
      .attr("stroke", barColors[i]).attr("stroke-width", 2.6);
    g.append("rect").attr("x", x(name)).attr("width", x.bandwidth())
      .attr("y", y(values[i])).attr("height", y(0) - y(values[i])).attr("fill", barColors[i]);
  });
  var xg = svg.append("g").attr("class", "big").attr("transform", "translate(0,631)")
    .call(d3.axisBottom(x).tickSizeInner(6).tickSizeOuter(0).tickPadding(6));
  xg.select(".domain").remove();
  xg.selectAll(".tick line").attr("stroke", "#111").attr("stroke-width", 1.3);
  svg.append("line").attr("x1", axisX - 6).attr("x2", axisEnd).attr("y1", 631).attr("y2", 631).attr("stroke", "#111").attr("stroke-width", 1.5);
  var yg = svg.append("g").attr("class", "big").attr("transform", "translate(" + axisX + ",0)")
    .call(d3.axisLeft(y).tickValues(ticks).tickSizeInner(6).tickSizeOuter(0).tickPadding(3).tickFormat(d3.format(".1f")));
  styleAxis(yg, "#111", 1.5);
  label(titleX, 417, title, 18.6, "#111");
  label(yLabelX, yLabelY, yLabel, 14, "#111", true, yLabelLen);
}
barPanel(82.4, 370.6, 105, 348, .4, coherence, coherenceErr, [0, .1, .2, .3, .4],
  "Spatial Information by PSF cluster", 226, "Spatial Coherence", 47, 535, 136);
barPanel(564, 856, 589.5, 832.6, 1.5, firingRate, firingRateErr, [0, .5, 1, 1.5],
  "Mean Firing Rate by PSF Cluster", 711, "Rate (Hz)", 531, 535, 71);

// panel letters
[["a", 10, 27], ["b", 400, 30], ["c", 850, 27], ["d", 17, 396], ["e", 453, 405]].forEach(function(d) {
  svg.append("text").attr("class", "letter").attr("x", d[1]).attr("y", d[2]).text(d[0]);
});
</script>
</body>
</html>
